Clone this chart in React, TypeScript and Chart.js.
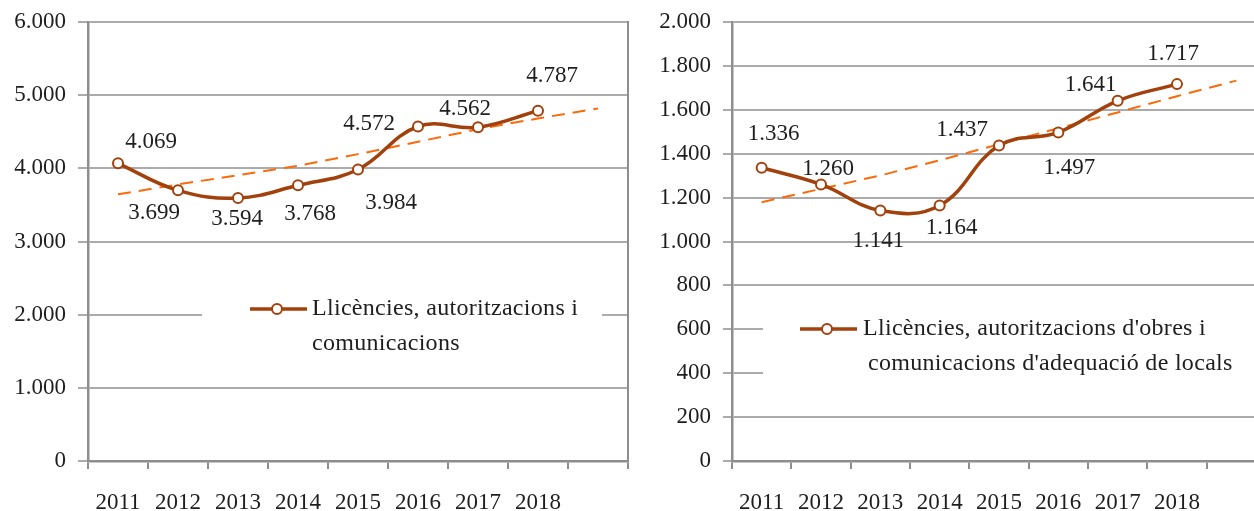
import React, { useEffect, useRef } from 'react';
import { Chart, registerables } from 'chart.js';

Chart.register(...registerables);

// ---------- DATA ----------
const years = ['2011', '2012', '2013', '2014', '2015', '2016', '2017', '2018', ''];

const llicenciesValues = [4069, 3699, 3594, 3768, 3984, 4572, 4562, 4787, null];
const llicenciesTrend = [3645, 3780, 3907, 4034, 4194, 4363, 4535, 4682, 4818];
const llicenciesLegend = ['Llicències, autoritzacions i', 'comunicacions'];
const llicenciesYMax = 6000;
const llicenciesStep = 1000;

const obresValues = [1336, 1260, 1141, 1164, 1437, 1497, 1641, 1717, null];
const obresTrend = [1179, 1240, 1301, 1370, 1443, 1516, 1588, 1662, 1733];
const obresLegend = ["Llicències, autoritzacions d'obres i", "comunicacions d'adequació de locals"];
const obresYMax = 2000;
const obresStep = 200;

// ---------- STYLE ----------
const FONT = "'Liberation Serif', 'Times New Roman', serif";
const FONT_SIZE = 23;
const LEGEND_SIZE = 24;
const TEXT = '#1e1e1e';
const MAIN = '#A3410D';
const TREND = '#FA6A0A';
const GRID = '#ABABAB';
const AXIS = '#8E8E8E';

// label offsets from each point (styling, in px)
const leftLabelOffsets = [[33, -21], [-24, 23], [-1, 21], [12, 29], [33, 33], [-49, -3], [-13, -18], [14, -35]];
const rightLabelOffsets = [[12, -34], [7, -15], [-2, 30], [12, 22], [-37, -16], [11, 36], [-27, -16], [-4, -30]];

const fmt = (v: number) => Math.round(v).toString().replace(/\B(?=(\d{3})+(?!\d))/g, '.');

type LegendBox = {
  x: number; y: number; w: number; h: number;
  mx1: number; mx2: number; my: number; cx: number;
  tx1: number; tx2: number; ty1: number; ty2: number;
};

type Props = {
  values: (number | null)[];
  trend: number[];
  yMax: number;
  step: number;
  offsets: number[][];
  legend: string[];
  box: LegendBox;
  left: number;
  width: number;
  yAxisWidth: number;
  rightPad: number;
  tickLength: number;
  rightBorder: boolean;
};

function LineChart(p: Props) {
  const ref = useRef<HTMLCanvasElement>(null);
  useEffect(() => {
    if (!ref.current) return;
    const valueLabels = {
      id: 'valueLabels',
      afterDatasetsDraw(chart: any) {
        const meta = chart.getDatasetMeta(0);
        const ctx = chart.ctx;
        ctx.save();
        ctx.font = `${FONT_SIZE}px ${FONT}`;
        ctx.fillStyle = TEXT;
        ctx.textAlign = 'center';
        ctx.textBaseline = 'middle';
        meta.data.forEach((pt: any, i: number) => {
          const v = p.values[i];
          if (v == null) return;
          const [dx, dy] = p.offsets[i];
          ctx.fillText(fmt(v), pt.x + dx, pt.y + dy);
        });
        ctx.restore();
      },
    };
    const boxLegend = {
      id: 'boxLegend',
      beforeDatasetsDraw(chart: any) {
        const ctx = chart.ctx;
        const a = chart.chartArea;
        const b = p.box;
        ctx.save();
        ctx.fillStyle = '#ffffff';
        ctx.fillRect(a.left + b.x, a.top + b.y, b.w, b.h);
        ctx.strokeStyle = MAIN;
        ctx.lineWidth = 3.5;
        ctx.beginPath();
        ctx.moveTo(a.left + b.mx1, a.top + b.my);
        ctx.lineTo(a.left + b.mx2, a.top + b.my);
        ctx.stroke();
        ctx.beginPath();
        ctx.arc(a.left + b.cx, a.top + b.my, 5, 0, Math.PI * 2);
        ctx.fillStyle = '#ffffff';
        ctx.fill();
        ctx.lineWidth = 2;
        ctx.stroke();
        ctx.font = `${LEGEND_SIZE}px ${FONT}`;
        try { (ctx as any).letterSpacing = '0.3px'; } catch (e) { /* ignore */ }
        ctx.fillStyle = TEXT;
        ctx.textAlign = 'left';
        ctx.textBaseline = 'middle';
        ctx.fillText(p.legend[0], a.left + b.tx1, a.top + b.ty1);
        ctx.fillText(p.legend[1], a.left + b.tx2, a.top + b.ty2);
        ctx.restore();
      },
    };
    const border = {
      id: 'rightBorder',
      afterDraw(chart: any) {
        if (!p.rightBorder) return;
        const ctx = chart.ctx;
        const a = chart.chartArea;
        ctx.save();
        ctx.strokeStyle = AXIS;
        ctx.lineWidth = 2;
        ctx.beginPath();
        ctx.moveTo(a.right, a.top - 1);
        ctx.lineTo(a.right, a.bottom);
        ctx.stroke();
        ctx.restore();
      },
    };

    const chart = new Chart(ref.current, {
      type: 'line',
      data: {
        labels: years,
        datasets: [
          {
            data: p.values,
            borderColor: MAIN,
            borderWidth: 3.5,
            tension: 0.4,
            pointRadius: 5,
            pointBorderWidth: 2,
            pointBackgroundColor: '#ffffff',
            pointBorderColor: MAIN,
            fill: false,
          },
          {
            data: p.trend,
            borderColor: TREND,
            borderWidth: 2,
            borderDash: [13, 8],
            pointRadius: 0,
            tension: 0,
            fill: false,
          },
        ],
      },
      options: {
        responsive: false,
        maintainAspectRatio: false,
        animation: false,
        devicePixelRatio: 1,
        layout: { autoPadding: false, padding: { top: 22, right: p.rightPad, left: 0, bottom: 0 } },
        plugins: { legend: { display: false }, tooltip: { enabled: false } },
        scales: {
          x: {
            type: 'category',
            offset: true,
            grid: { offset: true, drawOnChartArea: false, drawTicks: true, tickLength: 8, color: AXIS, lineWidth: 2 },
            border: { color: AXIS, width: 2.5 },
            ticks: { font: { family: FONT, size: FONT_SIZE }, color: TEXT, padding: 20, maxRotation: 0, autoSkip: false },
            afterFit: (s: any) => { s.height = 50; s.paddingLeft = 0; s.paddingRight = 0; },
          },
          y: {
            min: 0,
            max: p.yMax,
            grid: { color: GRID, lineWidth: 2, tickLength: p.tickLength, drawTicks: true },
            border: { color: AXIS, width: 2.5 },
            ticks: {
              stepSize: p.step,
              font: { family: FONT, size: FONT_SIZE },
              color: TEXT,
              padding: 12,
              callback: (v: any) => fmt(Number(v)),
            },
            afterFit: (s: any) => { s.width = p.yAxisWidth; s.paddingTop = 0; s.paddingBottom = 0; },
          },
        },
      },
      plugins: [boxLegend, valueLabels, border],
    } as any);
    return () => chart.destroy();
  }, []);
  return (
    <canvas
      ref={ref}
      width={p.width}
      height={511}
      style={{ position: 'absolute', left: p.left, top: 0, width: p.width, height: 511 }}
    />
  );
}

export default function App() {
  return (
    <div style={{ position: 'fixed', left: 0, top: 0, width: 1254, height: 511, overflow: 'hidden', background: '#ffffff' }}>
      <LineChart
        values={llicenciesValues}
        trend={llicenciesTrend}
        yMax={llicenciesYMax}
        step={llicenciesStep}
        offsets={leftLabelOffsets}
        legend={llicenciesLegend}
        box={{ x: 114, y: 263, w: 400, h: 85, mx1: 162, mx2: 219, my: 287, cx: 189, tx1: 224, tx2: 224, ty1: 287, ty2: 322 }}
        left={0}
        width={640}
        yAxisWidth={88}
        rightPad={12}
        tickLength={10}
        rightBorder={true}
      />
      <LineChart
        values={obresValues}
        trend={obresTrend}
        yMax={obresYMax}
        step={obresStep}
        offsets={rightLabelOffsets}
        legend={obresLegend}
        box={{ x: 31, y: 278, w: 600, h: 92, mx1: 68, mx2: 125, my: 307, cx: 95, tx1: 131, tx2: 136, ty1: 307, ty2: 342 }}
        left={640}
        width={640}
        yAxisWidth={92}
        rightPad={14}
        tickLength={9}
        rightBorder={false}
      />
    </div>
  );
}
